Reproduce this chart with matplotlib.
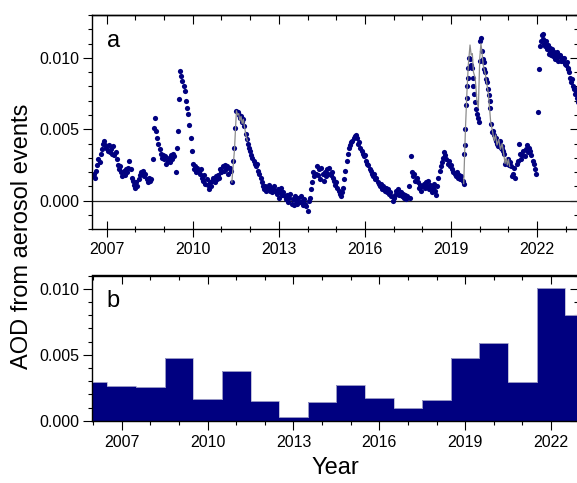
import numpy as np
import matplotlib
import matplotlib.pyplot as plt
from matplotlib.ticker import MultipleLocator
plt.switch_backend('agg')

matplotlib.rcParams['font.family'] = 'sans-serif'
matplotlib.rcParams['font.sans-serif'] = ['Liberation Sans', 'DejaVu Sans']

# ---- panel a: AOD from aerosol events, in units of 1e-3 ----
# regularly sampled segments: (start year, sampling step, values)
seg_a_start, seg_a_step = 2006.51, 0.04
seg_a = [1.7, 1.9, 1.6, 2.1, 2.5, 2.9, 2.7, 3.3, 3.6, 4.0, 4.2, 3.9, 3.7, 3.5, 3.9, 3.4,
         3.6, 3.3, 3.8, 3.2, 3.4, 2.9, 2.5, 2.2, 2.4, 2.0, 1.7, 2.1, 1.8, 2.2, 2.0, 2.3,
         2.8, 2.2, 1.6, 1.4, 1.1, 0.9, 1.3, 1.0, 1.5, 1.8, 2.0, 1.9, 2.1, 1.7, 1.9, 1.5,
         1.3, 1.6, 1.4, 1.5]

seg_b_start, seg_b_step = 2008.60, 0.04
seg_b = [2.9, 5.1, 5.8, 4.9, 4.4, 4.0, 3.6, 3.3, 3.0, 3.2, 2.9, 3.1, 2.6, 2.8, 3.0, 2.7,
         3.2, 2.9, 3.3, 3.1, 2.0, 3.7, 4.9, 7.1, 9.1, 8.7, 8.4, 8.0, 7.7, 7.0, 6.5, 6.1,
         5.3, 4.4, 3.5, 2.6, 2.2, 2.4, 2.0, 2.3, 2.1, 1.9, 2.2, 1.6, 1.4, 1.8, 1.2, 1.5,
         1.1, 0.8, 1.3, 1.0, 1.4, 1.6, 1.3, 1.7, 1.5, 1.8, 1.6, 2.2, 2.0, 2.4, 2.1, 2.5,
         2.2, 2.4, 1.9, 2.3, 2.1, 1.3]

seg_c_start, seg_c_step = 2011.40, 0.04
seg_c = [2.8, 3.7, 5.1, 6.3, 6.2, 6.0, 5.8, 5.9, 5.5, 5.7, 5.2, 4.7, 4.3, 4.0, 3.7, 3.5,
         3.2, 3.0, 2.8, 2.6, 2.4, 2.6, 2.1, 1.9, 1.6, 1.3, 1.0, 0.8, 1.0, 0.7, 0.9, 1.1,
         0.7, 0.9, 0.6, 0.8, 1.0, 0.7, 0.5, 0.8, 0.2, 0.6, 0.9, 0.4, 0.6, 0.3, 0.1, 0.4,
         -0.1, 0.2, 0.5, -0.2, 0.1, -0.3, 0.3, 0.0, -0.2, 0.2, -0.1, 0.3, 0.0, -0.3, 0.1,
         -0.2, -0.4, -0.7, 0.0, 0.2]

seg_d_start, seg_d_step = 2014.12, 0.04
seg_d = [0.8, 1.3, 2.0, 1.7, 1.9, 2.4, 1.8, 2.2, 1.5, 2.3, 1.9, 1.4, 2.0, 1.7, 2.2, 1.9,
         2.3, 1.8, 2.0, 1.6, 1.4, 1.1, 1.3, 0.9, 0.7, 0.5, 0.35, 0.6, 0.9, 1.5, 2.1, 2.8,
         3.3, 3.7, 3.9, 4.1, 4.2, 4.4, 4.5, 4.6, 4.4, 4.0, 4.1, 3.7, 3.5, 3.3, 3.1, 3.2,
         2.8, 2.6, 2.5, 2.2, 2.1, 1.9, 1.7, 1.9, 1.5, 1.6, 1.3, 1.2, 1.0, 1.2, 0.8, 1.0,
         0.7, 0.9, 0.6, 0.8, 0.5, 0.6, 0.3, 0.0, 0.2, 0.4, 0.7, 0.5, 0.8, 0.4, 0.6, 0.3,
         0.5, 0.2, 0.4, 0.1, 0.3, 1.0, 0.2, 3.1, 2.0, 1.7, 1.9, 1.4, 1.6, 1.3, 0.9, 1.1,
         0.7, 1.0, 1.2, 0.9, 1.3, 1.0, 1.4, 0.8, 1.1, 0.6, 0.9, 1.2, 0.7, 0.4, 1.0, 1.6,
         2.1, 2.4, 2.7, 3.0, 3.4, 3.2, 2.9, 2.6, 2.8, 2.4, 2.5, 2.2, 2.0, 1.9, 1.7, 2.0,
         1.6, 1.8, 1.5, 1.7, 1.4, 1.2]

seg_e_years = [2019.46, 2019.48, 2019.50, 2019.52, 2019.54, 2019.56, 2019.58, 2019.60,
               2019.62, 2019.65, 2019.68, 2019.72, 2019.75, 2019.78, 2019.81, 2019.84,
               2019.87, 2019.90, 2019.93, 2019.96, 2020.00, 2020.02, 2020.05, 2020.07,
               2020.10, 2020.13, 2020.16, 2020.19, 2020.22, 2020.25, 2020.28, 2020.31,
               2020.34, 2020.37, 2020.40, 2020.43, 2020.46, 2020.49, 2020.52, 2020.55,
               2020.58, 2020.61, 2020.64, 2020.67, 2020.70, 2020.73, 2020.76, 2020.79,
               2020.82, 2020.85, 2020.88, 2020.91, 2020.94, 2020.97, 2021.00, 2021.03,
               2021.06, 2021.09]
seg_e = [3.3, 3.9, 5.0, 6.7, 7.2, 8.0, 8.6, 9.3, 10.0, 9.9, 9.5, 9.3, 8.6, 8.0, 7.5, 6.9,
         6.4, 6.1, 5.8, 5.5, 9.8, 11.2, 11.4, 10.5, 9.9, 9.7, 9.2, 9.0, 8.5, 8.3, 7.8, 7.4,
         7.0, 6.5, 5.4, 4.8, 4.9, 4.6, 4.4, 4.2, 4.4, 4.0, 3.8, 4.1, 4.2, 3.7, 3.6, 3.8,
         3.5, 3.3, 2.6, 2.8, 2.7, 2.9, 2.6, 2.5, 2.7, 2.4]

seg_f_start, seg_f_step = 2021.12, 0.04
seg_f = [1.7, 1.9, 2.3, 1.6, 2.6, 2.8, 4.0, 3.3, 2.9, 3.2, 3.5, 3.1, 3.6, 3.9, 3.4, 3.7,
         3.5, 3.2, 2.8, 2.6, 2.2, 1.9]

seg_g_start, seg_g_step = 2022.04, 0.03
seg_g = [6.2, 9.2, 10.8, 11.2, 11.6, 11.7, 11.3, 11.0, 10.8, 11.2, 10.6, 10.9, 10.3, 10.7,
         10.4, 10.2, 10.6, 10.1, 10.4, 9.9, 10.3, 10.0, 10.4, 9.8, 10.1, 10.2, 9.8, 10.0,
         9.9, 9.8, 10.0, 9.6, 9.5, 9.7, 9.3, 9.2, 9.0, 8.6, 8.3, 8.5, 8.0, 7.8, 7.9, 7.5,
         7.6, 7.2, 6.9, 7.0]

# grey line (visible where it departs from the dots)
line1_years = [2011.36, 2011.45, 2011.52, 2011.56, 2011.60, 2011.64, 2011.68, 2011.72,
               2011.76, 2011.80, 2011.85, 2011.90]
line1_aod = [1.3, 3.5, 6.3, 6.0, 6.1, 5.6, 5.9, 5.4, 5.7, 5.2, 4.6, 4.2]
line2_years = [2019.44, 2019.50, 2019.55, 2019.60, 2019.66, 2019.70, 2019.74, 2019.78,
               2019.84, 2019.90, 2019.95, 2020.00, 2020.04, 2020.07, 2020.12, 2020.20,
               2020.30, 2020.38, 2020.45, 2020.50, 2020.55, 2020.60, 2020.66, 2020.72,
               2020.78, 2020.84, 2020.88, 2020.92, 2020.96, 2021.00, 2021.04]
line2_aod = [1.2, 5.0, 7.5, 9.5, 10.9, 10.2, 10.3, 9.0, 8.6, 7.0, 6.5, 10.0, 11.0, 10.5,
             9.5, 8.8, 7.5, 5.5, 4.8, 4.2, 4.6, 3.9, 4.3, 3.6, 4.0, 3.2, 2.6, 3.0, 2.5,
             2.9, 2.4]

# ---- panel b: annual AOD from aerosol events ----
bar_years = list(range(2006, 2024))
bar_aod = [0.00296, 0.00266, 0.00258, 0.00478, 0.00167, 0.00377, 0.00147, 0.00025,
           0.00139, 0.00271, 0.00172, 0.00094, 0.00159, 0.00478, 0.00585, 0.00291,
           0.01005, 0.00797]

navy = '#000080'

if __name__ == '__main__':
    segs = [(seg_a_start, seg_a_step, seg_a), (seg_b_start, seg_b_step, seg_b),
            (seg_c_start, seg_c_step, seg_c), (seg_d_start, seg_d_step, seg_d),
            (seg_f_start, seg_f_step, seg_f), (seg_g_start, seg_g_step, seg_g)]
    xs, ys = [], []
    for start, stp, vals in segs:
        xs.append(start + stp * np.arange(len(vals)))
        ys.append(np.array(vals))
    xs.append(np.array(seg_e_years))
    ys.append(np.array(seg_e))
    x_pts = np.concatenate(xs)
    y_pts = np.concatenate(ys) / 1000.0

    fig = plt.figure(figsize=(5.77, 4.83), dpi=100)
    ax1 = fig.add_axes([92.3 / 577, 1 - 229.3 / 483, 486.2 / 577, 214.3 / 483])
    ax2 = fig.add_axes([92.3 / 577, 1 - 420.7 / 483, 486.2 / 577, 145.2 / 483])

    # panel a
    ax1.axhline(0, color='#202020', lw=0.9, zorder=1)
    ax1.scatter(x_pts, y_pts, s=14, color=navy, linewidths=0, zorder=2)
    ax1.plot(line1_years, np.array(line1_aod) / 1000.0, color='#8c8c8c', lw=0.9, zorder=3)
    ax1.plot(line2_years, np.array(line2_aod) / 1000.0, color='#8c8c8c', lw=0.9, zorder=3)
    ax1.set_xlim(2006.498, 2023.44)
    ax1.set_ylim(-0.002, 0.013)

    # panel b
    ax2.bar(bar_years, bar_aod, width=1.0, color=navy, linewidth=0, zorder=2)
    ax2.step(bar_years, bar_aod, where='mid', color='#b4b4d2', lw=0.6, zorder=3)
    ax2.set_xlim(2005.97, 2022.96)
    ax2.set_ylim(0, 0.011)

    for ax, xdir in ((ax1, 'inout'), (ax2, 'out')):
        for sp in ax.spines.values():
            sp.set_linewidth(1.0)
        ax.xaxis.set_major_locator(MultipleLocator(3))
        ax.xaxis.set_minor_locator(MultipleLocator(1))
        ax.yaxis.set_major_locator(MultipleLocator(0.005))
        ax.yaxis.set_minor_locator(MultipleLocator(0.001))
        ax.yaxis.set_major_formatter(matplotlib.ticker.FormatStrFormatter('%.3f'))
        ax.xaxis.set_major_formatter(matplotlib.ticker.FormatStrFormatter('%d'))
        if xdir == 'inout':
            ax.tick_params(axis='x', which='major', direction='inout', length=12, width=0.8)
            ax.tick_params(axis='x', which='minor', direction='inout', length=5, width=0.8)
        else:
            ax.tick_params(axis='x', which='major', direction='out', length=6.5, width=0.8)
            ax.tick_params(axis='x', which='minor', direction='out', length=3, width=0.8)
        ax.tick_params(axis='y', which='major', direction='out', length=6.5, width=0.8, pad=3)
        ax.tick_params(axis='y', which='minor', direction='out', length=3, width=0.8)
        ax.tick_params(labelsize=11.5)

        top = ax.secondary_xaxis('top')
        top.xaxis.set_major_locator(MultipleLocator(3))
        top.xaxis.set_minor_locator(MultipleLocator(1))
        top.tick_params(which='major', direction='in', length=6.5, width=0.8, labeltop=False)
        top.tick_params(which='minor', direction='in', length=3.6, width=0.8)
        top.spines['top'].set_linewidth(1.0)
        right = ax.secondary_yaxis('right')
        right.yaxis.set_major_locator(MultipleLocator(0.005))
        right.yaxis.set_minor_locator(MultipleLocator(0.001))
        right.tick_params(which='major', direction='in', length=6.5, width=0.8, labelright=False)
        right.tick_params(which='minor', direction='in', length=3.6, width=0.8)

    ax1.text(0.03, 0.93, 'a', transform=ax1.transAxes, fontsize=17, va='top', ha='left')
    ax2.text(0.03, 0.90, 'b', transform=ax2.transAxes, fontsize=17, va='top', ha='left')

    fig.text(22 / 577, 1 - 236 / 483, 'AOD from aerosol events', rotation=90,
             fontsize=17, ha='center', va='center')
    fig.text(335 / 577, 1 - 468 / 483, 'Year', fontsize=17, ha='center', va='center')

    plt.savefig('out.png', dpi=100)
